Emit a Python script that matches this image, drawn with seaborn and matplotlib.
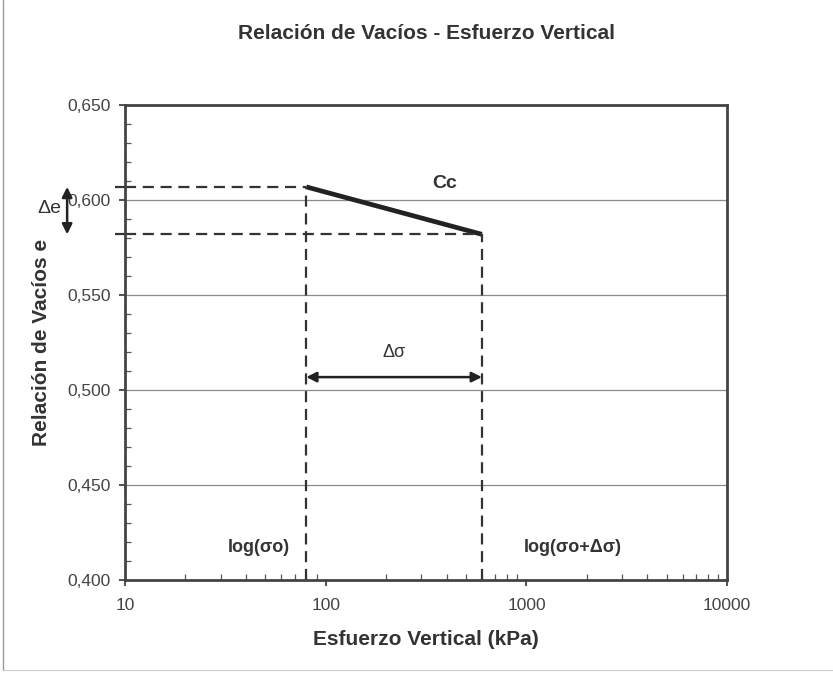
import numpy as np
import matplotlib
matplotlib.use("Agg")
import matplotlib.pyplot as plt
import matplotlib.ticker as mticker
import matplotlib.transforms as mtransforms
from matplotlib.lines import Line2D
import seaborn as sns
import pandas as pd

# data
sigma = [80, 600]          # kPa, sigma0 and sigma0 + dsigma
e_ratio = [0.607, 0.582]   # void ratio at each stress
y_ticks = [0.400, 0.450, 0.500, 0.550, 0.600, 0.650]
x_ticks = [10, 100, 1000, 10000]

sns.set_style("white")
plt.rcParams['font.family'] = ['Liberation Sans', 'DejaVu Sans']
ink = "#333333"

fig = plt.figure(figsize=(8.33, 6.79), dpi=100)
ax = fig.add_axes([0.150, 0.146, 0.723, 0.699])

df = pd.DataFrame({'sigma': sigma, 'e': e_ratio})
sns.lineplot(data=df, x='sigma', y='e', ax=ax, color="#222222", lw=3.4,
             solid_capstyle='butt')

ax.set_xscale('log')
ax.set_xlim(10, 10000)
ax.set_ylim(0.400, 0.650)
ax.set_xticks(x_ticks)
ax.set_xticklabels([str(v) for v in x_ticks])
ax.set_yticks(y_ticks)
ax.set_yticklabels([f"{v:.3f}".replace('.', ',') for v in y_ticks])
ax.yaxis.set_minor_locator(mticker.MultipleLocator(0.01))
ax.xaxis.set_minor_locator(mticker.LogLocator(base=10, subs=np.arange(2, 10)))
ax.xaxis.set_minor_formatter(mticker.NullFormatter())
ax.tick_params(which='both', left=True, bottom=True)
ax.tick_params(which='major', direction='out', length=4, width=1.2, color=ink,
               labelsize=12.5, labelcolor="#444444", pad=6)
ax.tick_params(which='minor', direction='in', length=4, width=0.9, color="#555555")
ax.tick_params(axis='x', which='major', pad=9)

# gridlines only at the inner y ticks
for v in y_ticks[1:-1]:
    ax.axhline(v, color="#8a8a8a", lw=0.9, zorder=0)

for s in ax.spines.values():
    s.set_color("#444444")
    s.set_linewidth(2)

# dashed construction lines
trans = mtransforms.blended_transform_factory(ax.transAxes, ax.transData)
dash = dict(color="#333333", lw=1.6, ls=(0, (5, 3)), clip_on=False)
ax.plot([-0.017, 0], [e_ratio[0], e_ratio[0]], transform=trans, **dash)
ax.plot([-0.017, 0], [e_ratio[1], e_ratio[1]], transform=trans, **dash)
ax.plot([10, sigma[0]], [e_ratio[0], e_ratio[0]], **dash)
ax.plot([10, sigma[1]], [e_ratio[1], e_ratio[1]], **dash)
ax.plot([sigma[0], sigma[0]], [0.400, e_ratio[0]], **dash)
ax.plot([sigma[1], sigma[1]], [0.400, e_ratio[1]], **dash)

# delta sigma arrow
ax.annotate('', xy=(sigma[0], 0.5068), xytext=(sigma[1], 0.5068),
            arrowprops=dict(arrowstyle='<|-|>', color="#222222", lw=1.8,
                            shrinkA=0, shrinkB=0, mutation_scale=15))
ax.text(np.sqrt(sigma[0] * sigma[1]), 0.520, 'Δσ', ha='center', va='center',
        fontsize=13, color=ink)

# delta e arrow outside the axes
ax.annotate('', xy=(-0.096, e_ratio[0]), xytext=(-0.096, e_ratio[1]),
            xycoords=trans, textcoords=trans,
            arrowprops=dict(arrowstyle='<|-|>', color="#222222", lw=1.8,
                            shrinkA=0, shrinkB=0, mutation_scale=15),
            annotation_clip=False)
ax.text(-0.125, 0.5955, 'Δe', transform=trans, ha='center', va='center',
        fontsize=14, color=ink, clip_on=False)

ax.text(390, 0.609, 'Cc', ha='center', va='center', fontsize=14,
        fontweight='bold', color=ink)
ax.text(sigma[0] * 0.83, 0.4168, 'log(σo)', ha='right', va='center',
        fontsize=13, fontweight='bold', color=ink)
ax.text(sigma[1] * 1.62, 0.4168, 'log(σo+Δσ)', ha='left', va='center',
        fontsize=13, fontweight='bold', color=ink)

ax.set_xlabel('Esfuerzo Vertical (kPa)', fontsize=15, fontweight='bold',
              color=ink, labelpad=12)
ax.set_ylabel('Relación de Vacíos e', fontsize=15, fontweight='bold',
              color=ink, labelpad=12)
fig.text(0.512, 0.951, 'Relación de Vacíos - Esfuerzo Vertical',
         ha='center', va='center', fontsize=15, fontweight='bold', color=ink)

# scan edges of the page on the left and bottom
fig.add_artist(Line2D([0.004, 0.004], [0.013, 1.0], transform=fig.transFigure,
                      color="#999999", lw=1.0))
fig.add_artist(Line2D([0.004, 1.0], [0.013, 0.013], transform=fig.transFigure,
                      color="#cccccc", lw=0.8))

fig.savefig("out.png", dpi=100)
